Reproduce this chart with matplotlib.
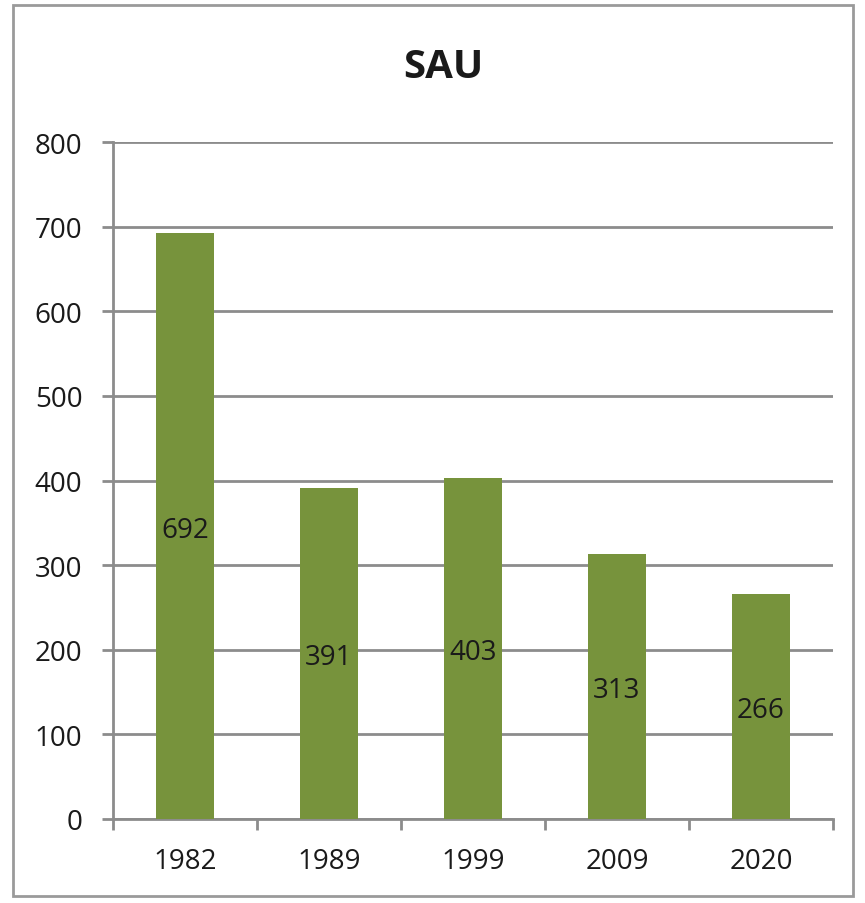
import matplotlib

matplotlib.use("Agg")
import matplotlib.pyplot as plt
from matplotlib.patches import Rectangle

years = ["1982", "1989", "1999", "2009", "2020"]
sau = [692, 391, 403, 313, 266]
title = "SAU"

BAR_COLOR = "#77933C"
GRID_COLOR = "#8C8C8C"
TEXT_COLOR = "#1A1A1A"
FS = 20

plt.rcParams["font.family"] = ["Open Sans", "DejaVu Sans"]

W, H = 865, 904
fig = plt.figure(figsize=(W / 100, H / 100), dpi=100)
# axes box in pixels: x 113..833, y 143..820 (from top)
ax = fig.add_axes([113 / W, 1 - 820 / H, (833 - 113) / W, (820 - 143) / H])

# outer chart border
fig.patches.append(
    Rectangle((13 / W, 1 - 897 / H), (853 - 13) / W, (897 - 6) / H,
              transform=fig.transFigure, fill=False, edgecolor="#9A9A9A", linewidth=2)
)

x = list(range(len(years)))
bars = ax.bar(x, sau, width=0.4, color=BAR_COLOR, zorder=3)
for rect, v in zip(bars, sau):
    ax.text(rect.get_x() + rect.get_width() / 2, v / 2, str(v), ha="center",
            va="center_baseline", fontsize=FS, color=TEXT_COLOR, zorder=4)

ax.set_xlim(-0.5, len(years) - 0.5)
ax.set_ylim(0, 800)
ax.set_yticks(range(0, 801, 100))
ax.yaxis.grid(True, color=GRID_COLOR, linewidth=2)
ax.set_axisbelow(True)

ax.set_xticks([i + 0.5 for i in range(-1, len(years))])
ax.set_xticklabels([])
ax.set_xticks(x, minor=True)
ax.set_xticklabels(years, minor=True)
ax.tick_params(axis="x", which="major", length=8, width=2, color=GRID_COLOR, direction="out")
ax.tick_params(axis="x", which="minor", length=0, pad=20, labelsize=FS, labelcolor=TEXT_COLOR)
ax.tick_params(axis="y", length=8, width=2, color=GRID_COLOR, pad=14, labelsize=FS,
               labelcolor=TEXT_COLOR)

for side in ("top", "right"):
    ax.spines[side].set_visible(False)
for side in ("left", "bottom"):
    ax.spines[side].set_color(GRID_COLOR)
    ax.spines[side].set_linewidth(2)

fig.text(443 / W, 1 - 68 / H, title, ha="center", va="center", fontsize=29,
         fontweight="bold", color=TEXT_COLOR)

fig.savefig("out.png", dpi=100)
